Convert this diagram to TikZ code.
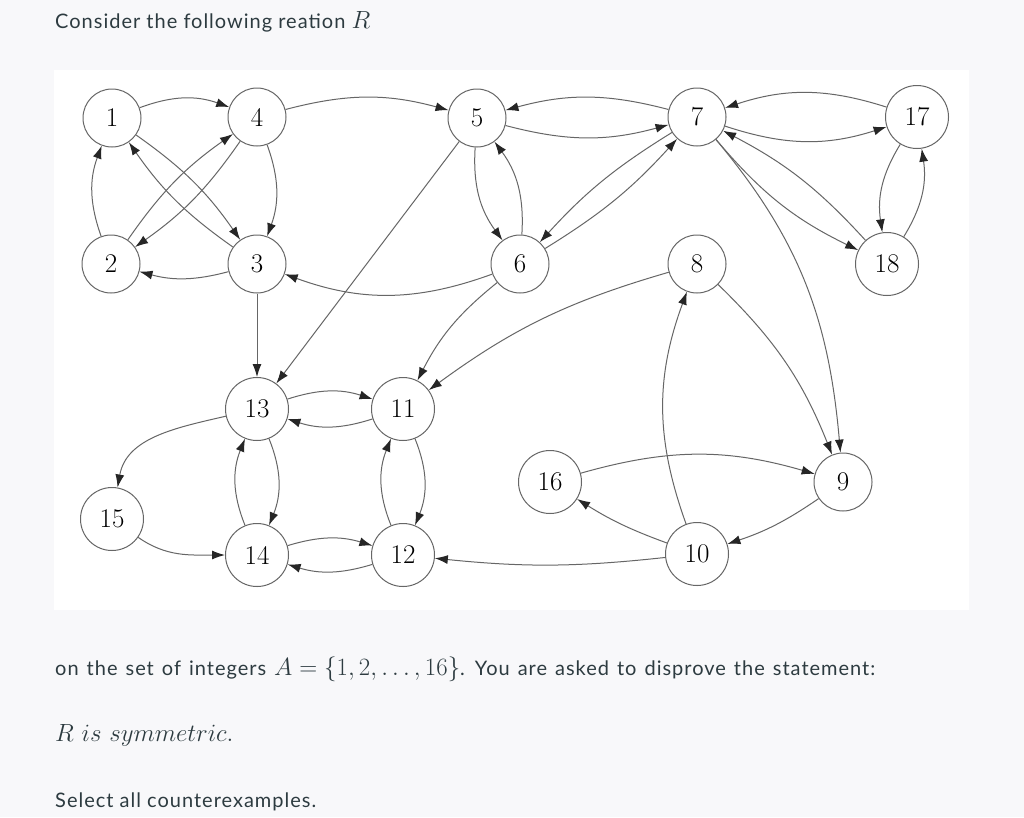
\documentclass[tikz,border=0pt]{standalone}
\usepackage{fontspec}
\newfontfamily\uifont[LetterSpace=5]{Lato}
\usetikzlibrary{arrows.meta}
\definecolor{pagebg}{HTML}{F8F8FA}
\definecolor{txt}{HTML}{2D3B40}
\definecolor{edgec}{HTML}{666666}
\newcommand\mymath[1]{{\fontsize{25.5}{26}\selectfont$#1$}}
\tikzset{
  v/.style={circle, draw=edgec, line width=1pt, fill=white, minimum size=58pt, inner sep=0pt, font=\fontsize{27}{27}\selectfont},
  vv/.style={v, minimum size=63pt},
  e/.style={draw=edgec, line width=1pt, -{Latex[length=13pt,width=9pt,color=black!85]}},
  ui/.style={anchor=base west, inner sep=0pt, text=txt, font=\uifont\fontsize{20}{24}\selectfont},
}
\begin{document}
\begin{tikzpicture}[x=1pt,y=1pt]
\fill[pagebg] (0,0) rectangle (1024,-817);
\useasboundingbox (0,0) rectangle (1024,-817);
\fill[white] (54,-70) rectangle (969,-610);

\node[ui] (t1) at (55,-28) {Consider the following reation \mymath{R}};
\node[ui] (t2) at (55,-675) {\spaceskip=8pt on the set of integers \mymath{A=\{1,2,\ldots,16\}}. You are asked to disprove the statement:};
\node[ui] (t3) at (55,-741) {\mymath{R\ is\ symmetric.}};
\node[ui] (t4) at (55,-807) {Select all counterexamples.};

\node[v] (n1) at (112,-118) {1};
\node[v] (n4) at (257,-117) {4};
\node[v] (n5) at (477,-118) {5};
\node[v] (n7) at (697,-117) {7};
\node[vv] (n17) at (917,-117) {17};
\node[v] (n2) at (111,-264) {2};
\node[v] (n3) at (257,-264) {3};
\node[v] (n6) at (520,-264) {6};
\node[v] (n8) at (697,-264) {8};
\node[vv] (n18) at (887,-264) {18};
\node[vv] (n13) at (257,-409) {13};
\node[vv] (n11) at (403,-409) {11};
\node[vv] (n16) at (550,-482) {16};
\node[v] (n9) at (843,-482) {9};
\node[vv] (n15) at (112,-519) {15};
\node[vv] (n14) at (257,-555) {14};
\node[vv] (n12) at (403,-555) {12};
\node[vv] (n10) at (697,-554) {10};

\draw[e] (n1) to[bend left=20] (n4);
\draw[e] (n4) to[bend left=15] (n5);
\draw[e] (n1) to[bend left=10] (n3);
\draw[e] (n3) to[bend left=10] (n1);
\draw[e] (n2) to[bend left=10] (n4);
\draw[e] (n4) to[bend left=10] (n2);
\draw[e] (n2) to[bend left=20] (n1);
\draw[e] (n4) to[bend left=20] (n3);
\draw[e] (n3) to[bend left=15] (n2);
\draw[e] (n6) to[bend left=20] (n3);
\draw[e] (n3) -- (n13);
\draw[e] (n5) -- (n13);
\draw[e] (n5) to[bend right=20] (n6);
\draw[e] (n6) to[bend right=20] (n5);
\draw[e] (n7) to[bend right=15] (n5);
\draw[e] (n5) to[bend right=15] (n7);
\draw[e] (n17) to[bend right=18] (n7);
\draw[e] (n7) to[bend right=18] (n17);
\draw[e] (n7) to[bend right=8] (n6);
\draw[e] (n6) to[bend right=8] (n7);
\draw[e] (n7) to[bend right=12] (n18);
\draw[e] (n18) to[bend right=10] (n7);
\draw[e] (n17) to[bend right=20] (n18);
\draw[e] (n18) to[bend right=20] (n17);
\draw[e] (n7) to[out=-50,in=95] (n9);
\draw[e] (n8) to[bend left=12] (n9);
\draw[e] (n8) to[bend right=10] (n11);
\draw[e] (n6) to[bend right=12] (n11);
\draw[e] (n13) to[bend left=18] (n11);
\draw[e] (n11) to[bend left=18] (n13);
\draw[e] (n13) to[bend left=22] (n14);
\draw[e] (n14) to[bend left=22] (n13);
\draw[e] (n11) to[bend left=22] (n12);
\draw[e] (n12) to[bend left=22] (n11);
\draw[e] (n14) to[bend left=17] (n12);
\draw[e] (n12) to[bend left=17] (n14);
\draw[e] (n13) to[out=193,in=80] (n15);
\draw[e] (n15) to[out=-35,in=180] (n14);
\draw[e] (n10) to[bend left=6] (n12);
\draw[e] (n10) to[bend left=20] (n8);
\draw[e] (n10) to[bend left=6] (n16);
\draw[e] (n16) to[bend left=16] (n9);
\draw[e] (n9) to[bend left=8] (n10);
\end{tikzpicture}
\end{document}
